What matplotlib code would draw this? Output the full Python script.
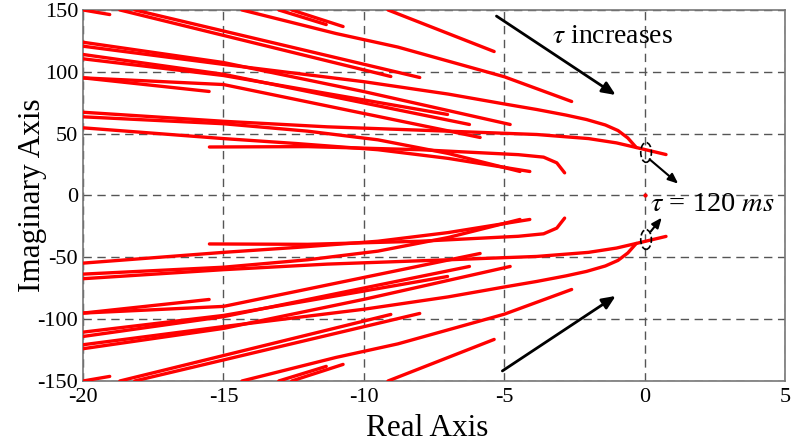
import matplotlib
matplotlib.use("Agg")
import matplotlib.pyplot as plt
from matplotlib.patches import Ellipse

plt.rcParams['font.family'] = ['Liberation Serif', 'DejaVu Serif']
plt.rcParams['mathtext.fontset'] = 'stix'
plt.rcParams['axes.unicode_minus'] = False

# Upper-half root-locus branches (lower half is the mirror image)
branch_x = [
    [-20.0, -19.05],
    [-18.69, -9.04],
    [-18.16, -8.01],
    [-14.34, -11.0, -8.79, -5.0, -2.6],
    [-13.03, -11.34],
    [-12.57, -10.74],
    [-9.14, -5.36],
    [-20.0, -15.0, -10.0, -4.79],
    [-20.0, -15.0, -10.0, -7.0, -5.0, -3.84, -2.8, -2.07, -1.4, -0.95, -0.6, -0.3],
    [-20.0, -15.0, -6.24],
    [-20.0, -15.0, -7.02],
    [-20.0, -15.51],
    [-20.0, -15.0, -5.86],
    [-20.0, -15.0, -11.3, -7.0, -3.84, -2.0, -1.0, -0.3, 0.76],
    [-20.0, -15.0, -12.0, -9.5, -7.0, -4.44],
    [-20.0, -15.0, -12.4, -9.5, -7.0, -4.09],
    [-15.5, -12.0, -8.0, -4.5, -3.6, -3.13, -2.85],
]
branch_y = [
    [150, 146.3],
    [150, 96.2],
    [150, 95.4],
    [150, 131, 120, 96, 76],
    [150, 138.2],
    [150, 136.6],
    [150, 116.4],
    [123.9, 107.5, 84, 57.4],
    [120.7, 106, 92, 82, 74, 69.5, 65, 61.4, 57, 52.5, 46.5, 38.8],
    [114, 98, 57.4],
    [110.5, 97, 65.5],
    [95.1, 84.1],
    [95.1, 89.7, 46.9],
    [67.3, 60, 55.5, 52, 49.3, 46, 42.5, 38.8, 33.1],
    [63.6, 58, 52, 45, 34, 19.4],
    [54.7, 46, 42, 37, 30, 19.4],
    [39.2, 39.5, 37, 33, 31, 26.4, 18.3],
]

xticks = [-20, -15, -10, -5, 0, 5]
yticks = [-150, -100, -50, 0, 50, 100, 150]

fig = plt.figure(figsize=(7.91, 4.43), dpi=100)
ax = fig.add_axes([0.105, 0.14, 0.8875, 0.8375])

for bx, by in zip(branch_x, branch_y):
    ax.plot(bx, by, color='#ff0000', lw=2.4, solid_capstyle='round',
            solid_joinstyle='round', zorder=3)
    ax.plot(bx, [-v for v in by], color='#ff0000', lw=2.4, solid_capstyle='round',
            solid_joinstyle='round', zorder=3)

ax.plot([0], [0], marker='o', ms=2, color='#ff0000', zorder=3)

ax.set_xlim(-20, 5)
ax.set_ylim(-150, 150)
ax.set_xticks(xticks)
ax.set_yticks(yticks)
ax.tick_params(length=0, labelsize=16)
ax.tick_params(axis='x', pad=5)
ax.tick_params(axis='y', pad=3.5)
ax.grid(True, ls=(0, (6, 4)), color='#555555', lw=1.0)
for s in ax.spines.values():
    s.set_color('#777777')
    s.set_linewidth(1.2)

ax.set_xlabel('Real Axis', fontsize=22.5)
ax.set_ylabel('Imaginary Axis', fontsize=22.5)
ax.xaxis.set_label_coords(0.49, -0.09)
ax.yaxis.set_label_coords(-0.072, 0.5)
ax.yaxis.label.set_va('center')

# annotations
arrowprops = dict(arrowstyle='-|>,head_length=0.8,head_width=0.35', color='black', lw=2)
ax.annotate('', xy=(-0.95, 80), xytext=(-5.36, 146.3), arrowprops=arrowprops)
ax.annotate('', xy=(-0.95, -80), xytext=(-5.15, -143.1), arrowprops=arrowprops)
ax.text(-3.3, 128.5, r'$\tau$ increases', fontsize=20, va='center', ha='left')

small_ap = dict(arrowstyle='-|>,head_length=0.6,head_width=0.25', color='black', lw=1.5)
ax.annotate('', xy=(1.27, 8.1), xytext=(0.1, 30.7), arrowprops=small_ap)
ax.annotate('', xy=(0.67, -16.2), xytext=(0.15, -31.0), arrowprops=small_ap)
ax.text(0.2, -7.3, r'$\tau$ = 120 $ms$', fontsize=20.5, va='center', ha='left')

for cy in (34.8, -35.6):
    ax.add_patch(Ellipse((0.05, cy), 0.38, 16, fill=False, ls='--', lw=1.2,
                         ec='black', zorder=4))

fig.savefig('out.png', dpi=100)
